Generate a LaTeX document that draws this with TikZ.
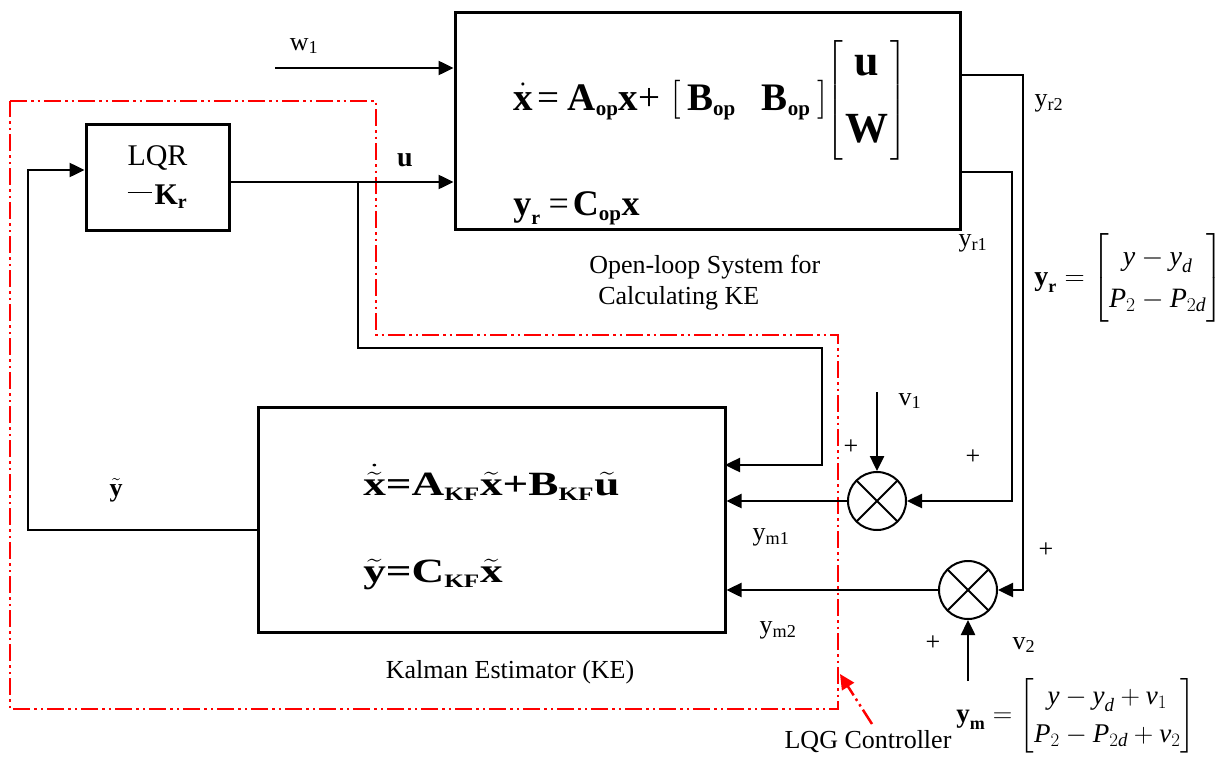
\RequirePackage{fix-cm}
\documentclass[tikz,border=0pt]{standalone}
\usepackage{amsmath}
\usepackage{graphicx}
\usepackage{fontspec}
\setmainfont{Liberation Serif}
\usetikzlibrary{arrows.meta,calc}
\newcommand{\bft}[1]{\text{\bfseries #1}}
\newcommand{\itt}[1]{\text{\itshape #1}}
\newcommand{\fs}[2]{\fontsize{#1}{#2}\selectfont}
\newcommand{\sbf}[2]{\mbox{\fontsize{#1}{#1}\selectfont\bfseries #2}}
\begin{document}
\begin{tikzpicture}[x=1pt,y=-1pt,line width=2.5pt,
  blk/.style={draw,line width=3pt,inner sep=0pt},
  arr/.style={-{Triangle[length=15pt,width=14pt]},line width=2.5pt},
  sumn/.style={circle,draw,line width=2pt,minimum size=58pt,inner sep=0pt,
    path picture={\draw[line width=2pt] (path picture bounding box.north west) -- (path picture bounding box.south east)
      (path picture bounding box.north east) -- (path picture bounding box.south west);}},
  lbl/.style={font=\fs{26}{30},inner sep=0pt},
  lqg/.style={draw=red,line width=2.5pt,dash pattern=on 17pt off 4pt on 2.5pt off 4pt on 2.5pt off 4pt}
]
\useasboundingbox (0,0) rectangle (1231,760);

% red LQG boundary
\draw[lqg] (10,101) -- (376,101) -- (376,335) -- (838,335) -- (838,709) -- (10,709) -- cycle;

% blocks
\node[blk,minimum width=505pt,minimum height=216pt] (ol) at (707.5,121) {};
\node[blk,minimum width=143pt,minimum height=106pt,align=center,font=\fs{30}{39}] (lqr) at (157.5,177)
  {LQR\\\rule[11pt]{24pt}{1.3pt}\hspace{3pt}$\bft{K}_{\sbf{20}{r}}$};
\node[blk,minimum width=467pt,minimum height=225pt] (ke) at (491.5,519.5) {};
\node[sumn] (s1) at (877,501) {};
\node[sumn] (s2) at (968,590) {};

% equations
\node[anchor=base west,inner sep=0pt,font=\fs{39}{46}] (oleq1) at (512,110)
  {$\dot{\bft{x}}\mkern2mu\text{=}\mkern4mu\bft{A}_{\sbf{21}{op}}\bft{x}\text{+}\mkern2mu\left[\mkern3mu\bft{B}_{\sbf{21}{op}}\mkern12mu\bft{B}_{\sbf{21}{op}}\mkern3mu\right]\mkern-3mu\left[\begin{array}{@{\mkern1mu}c@{\mkern1mu}}\sbf{44}{u}\\[21pt]\sbf{43}{W}\end{array}\right]$};
\node[anchor=base west,inner sep=0pt,font=\fs{36}{40}] (oleq2) at (512,215)
  {$\bft{y}_{\sbf{20}{r}}\mkern4mu\text{=}\mkern2mu\bft{C}_{\sbf{21}{op}}\bft{x}$};
\node[anchor=base west,inner sep=0pt,font=\fs{34}{40}] (keeq1) at (362,495)
  {\scalebox{1.33}[1]{$\dot{\tilde{\bft{x}}}\bft{=}\bft{A}_{\sbf{19}{KF}}\tilde{\bft{x}}\bft{+}\bft{B}_{\sbf{19}{KF}}\tilde{\bft{u}}$}};
\node[anchor=base west,inner sep=0pt,font=\fs{34}{40}] (keeq2) at (362,582)
  {\scalebox{1.33}[1]{$\tilde{\bft{y}}\bft{=}\bft{C}_{\sbf{19}{KF}}\tilde{\bft{x}}$}};
\node[anchor=west,inner sep=0pt,font=\fs{28}{42}] (yreq) at (1033,278)
  {$\bft{y}_{\sbf{18}{r}} = \begin{bmatrix}\itt{y} - \itt{y}_{\itt{d}}\\ \itt{P}_{2} - \itt{P}_{2\itt{d}}\end{bmatrix}$};
\node[anchor=west,inner sep=0pt,font=\fs{27}{38}] (ymeq) at (955,716)
  {$\bft{y}_{\sbf{18}{m}} = \begin{bmatrix}\itt{y} - \itt{y}_{\itt{d}} + \itt{v}_{1}\\ \itt{P}_{2} - \itt{P}_{2\itt{d}} + \itt{v}_{2}\end{bmatrix}$};

% labels
\node[lbl] (lw1) at (304,46) {w\textsubscript{1}};
\node[lbl,font=\fs{28}{30}\bfseries] (lu) at (405,160) {u};
\node[lbl] (lyr2) at (1049,103) {y\textsubscript{r2}};
\node[lbl] (lyr1) at (973,243) {y\textsubscript{r1}};
\node[lbl] (lv1) at (910,401) {v\textsubscript{1}};
\node[lbl] (lv2) at (1024,645) {v\textsubscript{2}};
\node[lbl] (lym1) at (771,537) {y\textsubscript{m1}};
\node[lbl] (lym2) at (778,630) {y\textsubscript{m2}};
\node[lbl,font=\fs{26}{30}] (lyt) at (116,490) {$\tilde{\bft{y}}$};
\node[lbl] (p1) at (851,447) {+};
\node[lbl] (p2) at (973,457) {+};
\node[lbl] (p3) at (1046,550) {+};
\node[lbl] (p4) at (933,643) {+};
\node[lbl,anchor=west] (olt1) at (588,267) {Open-loop System for};
\node[lbl,anchor=west] (olt2) at (597,298) {Calculating KE};
\node[lbl] (ket) at (510,672) {Kalman Estimator (KE)};
\node[lbl] (lqgt) at (868,742) {LQG Controller};

% coordinates
\coordinate (w1s) at (275,68);
\coordinate (uB) at (358,182);
\coordinate (uD) at (822,348);
\coordinate (kin) at (725,465);
\coordinate (fbL) at (28,530);
\coordinate (fbT) at (28,170);
\coordinate (yr1a) at (960,172);
\coordinate (yr1b) at (1012,501);
\coordinate (yr2a) at (960,75);
\coordinate (yr2b) at (1023,590);
\coordinate (v1s) at (877,392);
\coordinate (v2s) at (968,681);
\coordinate (lqgA) at (872,724);
\coordinate (lqgB) at (840,674);

% connectors
\draw[arr] (w1s) -- (w1s -| ol.west);
\draw[arr] (lqr.east |- uB) -- (uB -| ol.west);
\draw[arr] (uB) |- (uD) |- (kin);
\draw[arr] (ke.west |- fbL) -- (fbL) -- (fbT) -- (fbT -| lqr.west);
\draw[arr] (yr1a) -| (yr1b) -- (s1);
\draw[arr] (yr2a) -| (yr2b) -- (s2);
\draw[arr] (v1s) -- (s1);
\draw[arr] (v2s) -- (s2);
\draw[arr] (s1) -- (s1 -| ke.east);
\draw[arr] (s2) -- (s2 -| ke.east);
\draw[lqg,-{Triangle[length=15pt,width=14pt]}] (lqgA) -- (lqgB);
\end{tikzpicture}
\end{document}
